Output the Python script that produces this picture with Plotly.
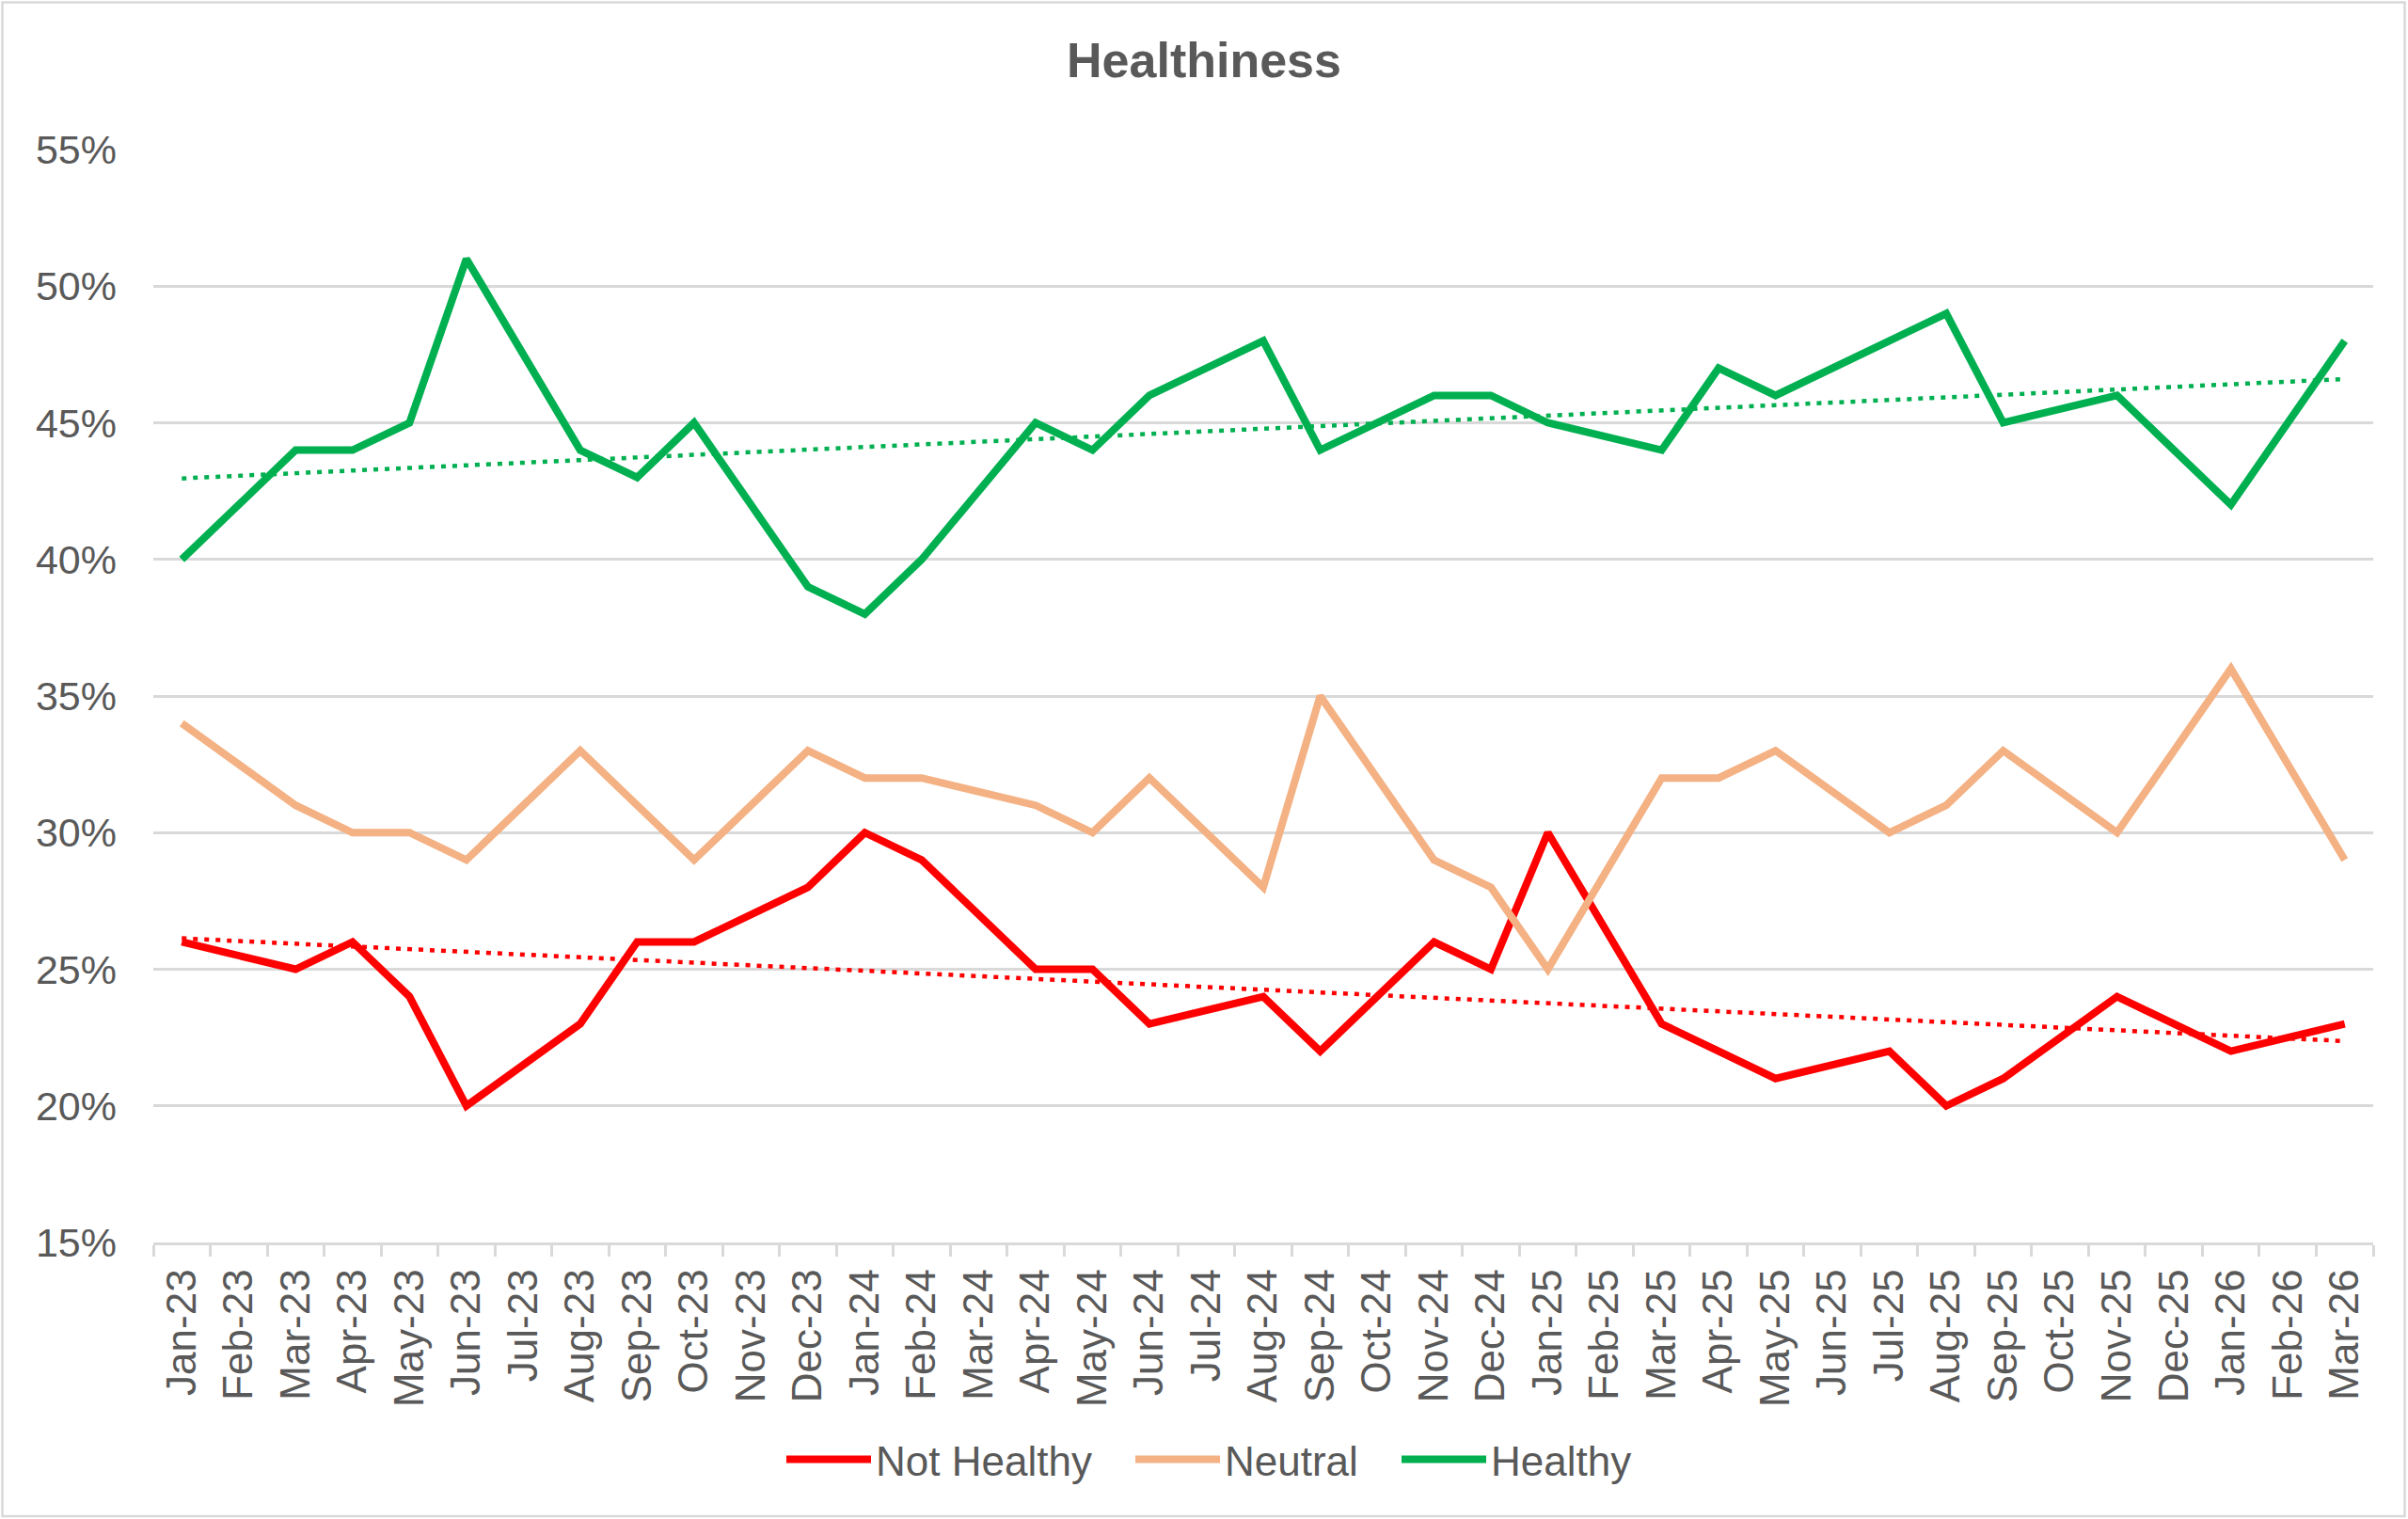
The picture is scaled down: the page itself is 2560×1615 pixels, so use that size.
import numpy as np
import plotly.graph_objects as go

months = ["Jan-23", "Feb-23", "Mar-23", "Apr-23", "May-23", "Jun-23", "Jul-23", "Aug-23", "Sep-23", "Oct-23",
          "Nov-23", "Dec-23", "Jan-24", "Feb-24", "Mar-24", "Apr-24", "May-24", "Jun-24", "Jul-24", "Aug-24",
          "Sep-24", "Oct-24", "Nov-24", "Dec-24", "Jan-25", "Feb-25", "Mar-25", "Apr-25", "May-25", "Jun-25",
          "Jul-25", "Aug-25", "Sep-25", "Oct-25", "Nov-25", "Dec-25", "Jan-26", "Feb-26", "Mar-26"]

not_healthy = [26, None, 25, 26, 24, 20, None, 23, 26, 26,
               None, 28, 30, 29, None, 25, 25, 23, None, 24,
               22, None, 26, 25, 30, None, 23, 22, 21, None,
               22, 20, 21, None, 24, None, 22, None, 23]
neutral = [34, None, 31, 30, 30, 29, None, 33, 31, 29,
           None, 33, 32, 32, None, 31, 30, 32, None, 28,
           35, None, 29, 28, 25, None, 32, 32, 33, None,
           30, 31, 33, None, 30, None, 36, None, 29]
healthy = [40, None, 44, 44, 45, 51, None, 44, 43, 45,
           None, 39, 38, 40, None, 45, 44, 46, None, 48,
           44, None, 46, 46, 45, None, 44, 47, 46, None,
           48, 49, 45, None, 46, None, 42, None, 48]

series_names = ["Not Healthy", "Neutral", "Healthy"]
colors = {"Not Healthy": "#FF0000", "Neutral": "#F4B183", "Healthy": "#00B050"}

W, H = 2560, 1615
ML, MR, MT, MB = 163, 37, 159, 294
TXT = "#595959"
GRID = "#D9D9D9"
FONT = "Arial, Liberation Sans, sans-serif"
legend_ids = ["legend", "legend2", "legend3"]
legend_left_px = [831, 1202, 1485]


def trend(vals):
    idx = np.array([i for i, v in enumerate(vals) if v is not None], dtype=float)
    y = np.array([v for v in vals if v is not None], dtype=float)
    slope, intercept = np.polyfit(idx, y, 1)
    xs = np.arange(len(vals))
    return list(slope * xs + intercept)


fig = go.Figure()
for name, vals, lg in zip(series_names, [not_healthy, neutral, healthy], legend_ids):
    fig.add_trace(go.Scatter(x=months, y=vals, name=name, mode="lines", connectgaps=True,
                             legend=lg, line=dict(color=colors[name], width=8)))

for name, vals in [("Not Healthy", not_healthy), ("Healthy", healthy)]:
    fig.add_trace(go.Scatter(x=months, y=trend(vals), mode="lines", showlegend=False,
                             line=dict(color=colors[name], width=4.5, dash="5px,7px")))

pw = W - ML - MR
ph = H - MT - MB
fig.add_shape(type="rect", xref="paper", yref="paper",
              x0=(2.5 - ML) / pw, x1=(W - 3.5 - ML) / pw,
              y0=-(H - 3 - (H - MB)) / ph, y1=((H - MB) - 2.5) / ph,
              line=dict(color=GRID, width=2.5), fillcolor="rgba(0,0,0,0)", layer="below")

legend_common = dict(orientation="h", xref="container", xanchor="left",
                     yref="container", y=1 - 1552 / H, yanchor="middle",
                     font=dict(size=44, color=TXT), itemwidth=90,
                     bgcolor="rgba(0,0,0,0)")
legends = {lg: dict(legend_common, x=px / W) for lg, px in zip(legend_ids, legend_left_px)}

fig.update_layout(
    width=W, height=H,
    margin=dict(l=ML, r=MR, t=MT, b=MB),
    paper_bgcolor="white", plot_bgcolor="white",
    font=dict(family=FONT, color=TXT, size=44),
    title=dict(text="<b>Healthiness</b>", x=0.5, xref="container", xanchor="center",
               y=1 - 64 / H, yref="container", yanchor="middle",
               font=dict(size=52, color=TXT, family=FONT)),
    showlegend=True,
    **legends,
)
fig.update_xaxes(type="category", range=[-0.5, len(months) - 0.5], tickangle=-90,
                 tickson="boundaries", ticks="outside", ticklen=12, tickwidth=2.5, tickcolor=GRID,
                 showline=True, linecolor=GRID, linewidth=2.5, showgrid=False,
                 tickfont=dict(size=44, color=TXT), ticklabelstandoff=8)
fig.update_yaxes(range=[15, 55], dtick=5, ticksuffix="%", showgrid=True, gridcolor=GRID, gridwidth=2.5,
                 zeroline=False, showline=False, ticks="", tickfont=dict(size=43, color=TXT),
                 ticklabelstandoff=38)

fig.write_html("out.html", config={"displayModeBar": False},
               post_script="document.body.style.margin='0';")
